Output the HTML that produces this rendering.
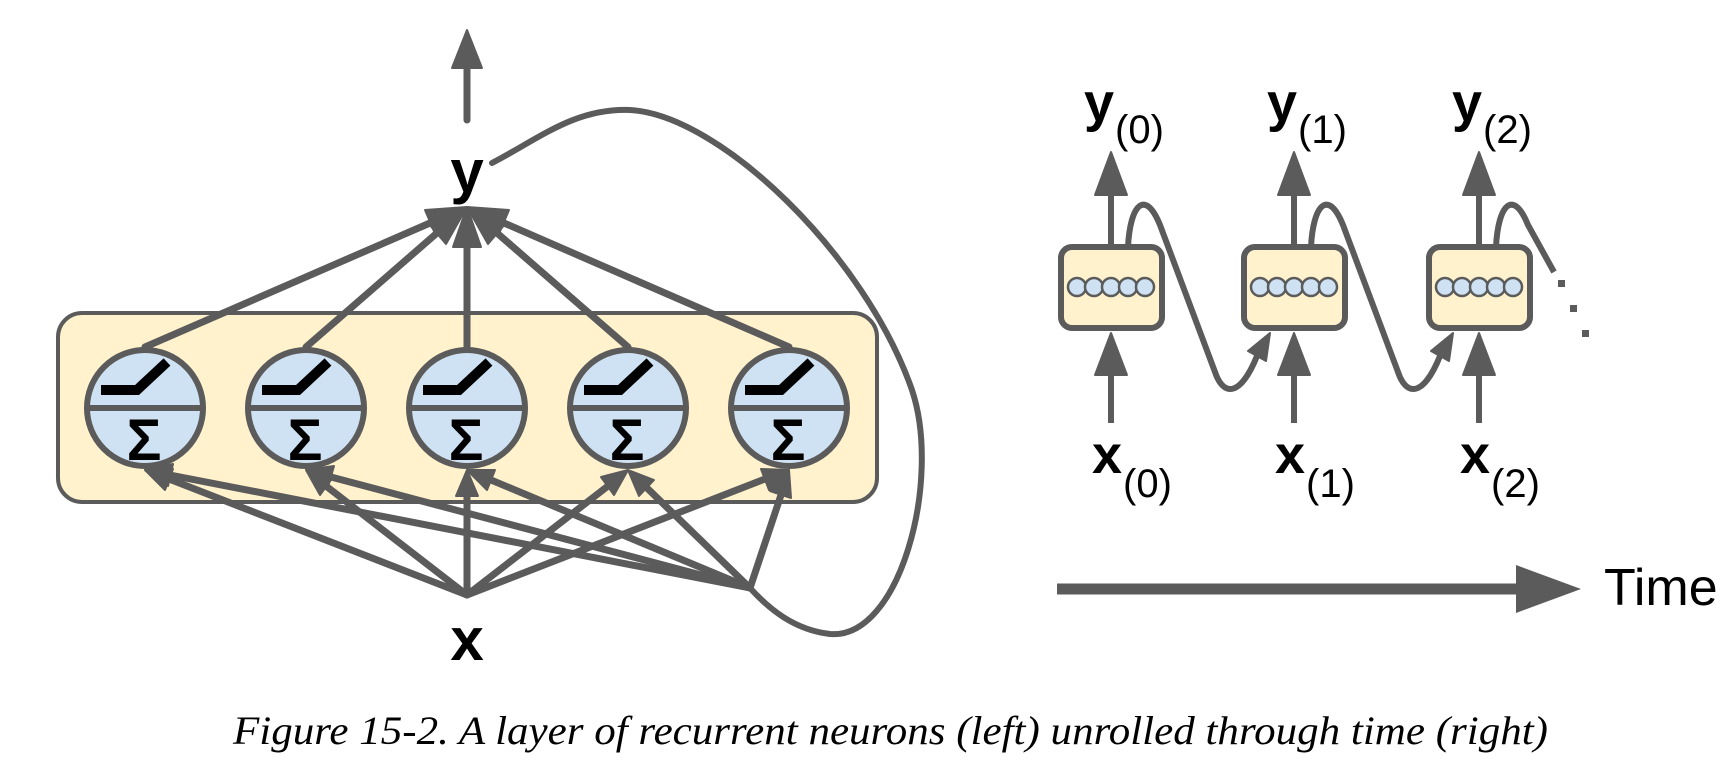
<!DOCTYPE html>
<html><head><meta charset="utf-8"><style>
html,body{margin:0;padding:0;background:#fff;}
svg{display:block;}
</style></head><body>
<svg width="1730" height="770" viewBox="0 0 1730 770" xmlns="http://www.w3.org/2000/svg">
<defs>
<g id="neuron">
  <circle cx="0" cy="0" r="58" fill="#cfe2f3" stroke="#5b5b5b" stroke-width="6"/>
  <line x1="-58" y1="0" x2="58" y2="0" stroke="#5b5b5b" stroke-width="6"/>
  <polyline points="-44,-18 -8,-18 22,-46" fill="none" stroke="#000" stroke-width="10"/>
  <text x="-1" y="52" font-family="Liberation Sans, sans-serif" font-weight="bold" font-size="58" text-anchor="middle" fill="#000">Σ</text>
</g>
<g id="cell">
  <rect x="-50" y="0" width="101" height="81" rx="11" fill="#fff2cc" stroke="#5b5b5b" stroke-width="6"/>
  <line x1="-40" y1="40" x2="40" y2="40" stroke="#5b5b5b" stroke-width="3"/>
  <circle cx="-34" cy="40" r="9" fill="#cfe2f3" stroke="#5b5b5b" stroke-width="2.5"/>
  <circle cx="-17" cy="40" r="9" fill="#cfe2f3" stroke="#5b5b5b" stroke-width="2.5"/>
  <circle cx="0" cy="40" r="9" fill="#cfe2f3" stroke="#5b5b5b" stroke-width="2.5"/>
  <circle cx="17" cy="40" r="9" fill="#cfe2f3" stroke="#5b5b5b" stroke-width="2.5"/>
  <circle cx="34" cy="40" r="9" fill="#cfe2f3" stroke="#5b5b5b" stroke-width="2.5"/>
</g>
</defs>

<!-- LEFT -->
<rect x="58" y="313" width="819" height="189" rx="24" fill="#fff2cc" stroke="#5b5b5b" stroke-width="4"/>

<g stroke="#5b5b5b" stroke-width="7" fill="none" stroke-linecap="round">
  <line x1="467" y1="120" x2="467" y2="66" stroke-width="7"/>
  <line x1="145" y1="347" x2="430" y2="223"/>
  <line x1="306" y1="347" x2="437" y2="233"/>
  <line x1="467" y1="347" x2="467" y2="247"/>
  <line x1="628" y1="347" x2="497" y2="233"/>
  <line x1="789" y1="347" x2="504" y2="223"/>
  <line x1="467" y1="595" x2="169" y2="479"/>
  <line x1="467" y1="595" x2="326" y2="486"/>
  <line x1="467" y1="595" x2="467" y2="496"/>
  <line x1="467" y1="595" x2="608" y2="486"/>
  <line x1="467" y1="595" x2="765" y2="479"/>
  <line x1="750" y1="588" x2="170" y2="475"/>
  <line x1="750" y1="588" x2="331" y2="477"/>
  <line x1="750" y1="588" x2="491" y2="480"/>
  <line x1="750" y1="588" x2="647" y2="488"/>
  <line x1="750" y1="588" x2="781" y2="495"/>
  <path d="M492,163 C540,138 575,108 630,110 C720,115 865,255 912,390 C942,480 900,640 830,634 C795,630 770,610 750,588" stroke-width="6"/>
</g>

<g fill="#5b5b5b" stroke="#5b5b5b" stroke-width="2" stroke-linejoin="round">
  <polygon points="467,30 482,68 452,68"/>
  <polygon points="467,207 436,236 425,210"/>
  <polygon points="467,207 446,244 428,223"/>
  <polygon points="467,207 481,247 453,247"/>
  <polygon points="467,207 488,244 506,223"/>
  <polygon points="467,207 498,236 509,210"/>
  <polygon points="145,470 173,469 165,490"/>
  <polygon points="306,470 333,477 320,495"/>
  <polygon points="467,470 478,496 456,496"/>
  <polygon points="628,470 614,495 601,477"/>
  <polygon points="789,470 769,490 761,469"/>
  <polygon points="145,470 173,464 168,486"/>
  <polygon points="306,470 334,466 328,487"/>
  <polygon points="467,470 495,470 487,490"/>
  <polygon points="628,470 654,480 639,496"/>
  <polygon points="789,470 791,498 770,491"/>
</g>

<use href="#neuron" x="145" y="408"/>
<use href="#neuron" x="306" y="408"/>
<use href="#neuron" x="467" y="408"/>
<use href="#neuron" x="628" y="408"/>
<use href="#neuron" x="789" y="408"/>

<g font-family="Liberation Sans, sans-serif" font-weight="bold" fill="#000" text-anchor="middle">
  <text x="467" y="192" font-size="60">y</text>
  <text x="467" y="660" font-size="60">x</text>
</g>

<!-- RIGHT -->
<g stroke="#5b5b5b" stroke-width="6" fill="none">
  <line x1="1111" y1="247" x2="1111" y2="192"/>
  <line x1="1294" y1="247" x2="1294" y2="192"/>
  <line x1="1479" y1="247" x2="1479" y2="192"/>
  <line x1="1111" y1="423" x2="1111" y2="372"/>
  <line x1="1294" y1="423" x2="1294" y2="372"/>
  <line x1="1479" y1="423" x2="1479" y2="372"/>
  <path d="M1128,247 C1130,205 1145,188 1160,225 L1215,372 C1223,396 1240,398 1257,356"/>
  <path d="M1311,247 C1313,205 1328,188 1343,225 L1398,372 C1406,396 1423,398 1440,356"/>
  <path d="M1496,247 C1498,205 1513,188 1528,225 L1554,272"/>
</g>
<g fill="#5b5b5b">
  <rect x="1558" y="280" width="7" height="7"/>
  <rect x="1570" y="305" width="7" height="7"/>
  <rect x="1582" y="330" width="7" height="7"/>
</g>
<g fill="#5b5b5b" stroke="#5b5b5b" stroke-width="2" stroke-linejoin="round">
  <polygon points="1111,152 1127,195 1095,195"/>
  <polygon points="1294,152 1310,195 1278,195"/>
  <polygon points="1479,152 1495,195 1463,195"/>
  <polygon points="1111,333 1127,375 1095,375"/>
  <polygon points="1294,333 1310,375 1278,375"/>
  <polygon points="1479,333 1495,375 1463,375"/>
  <polygon points="1270,333 1266,361 1248,351"/>
  <polygon points="1453,333 1449,361 1431,351"/>
</g>
<use href="#cell" x="1111" y="247"/>
<use href="#cell" x="1294" y="247"/>
<use href="#cell" x="1479" y="247"/>

<g font-family="Liberation Sans, sans-serif" fill="#000">
  <text x="1084" y="121" font-size="54" font-weight="bold">y</text>
  <text x="1115" y="143" font-size="40">(0)</text>
  <text x="1267" y="121" font-size="54" font-weight="bold">y</text>
  <text x="1298" y="143" font-size="40">(1)</text>
  <text x="1452" y="121" font-size="54" font-weight="bold">y</text>
  <text x="1483" y="143" font-size="40">(2)</text>
  <text x="1092" y="473" font-size="54" font-weight="bold">x</text>
  <text x="1123" y="497" font-size="40">(0)</text>
  <text x="1275" y="473" font-size="54" font-weight="bold">x</text>
  <text x="1306" y="497" font-size="40">(1)</text>
  <text x="1460" y="473" font-size="54" font-weight="bold">x</text>
  <text x="1491" y="497" font-size="40">(2)</text>
  <text x="1604" y="605" font-size="52">Time</text>
</g>

<line x1="1057" y1="589" x2="1520" y2="589" stroke="#5b5b5b" stroke-width="11"/>
<polygon points="1516,565 1581,589 1516,613" fill="#5b5b5b"/>

<text x="233" y="744" font-family="Liberation Serif, serif" font-style="italic" font-size="40" textLength="1315" lengthAdjust="spacingAndGlyphs" fill="#000">Figure 15-2. A layer of recurrent neurons (left) unrolled through time (right)</text>
</svg>
</body></html>
